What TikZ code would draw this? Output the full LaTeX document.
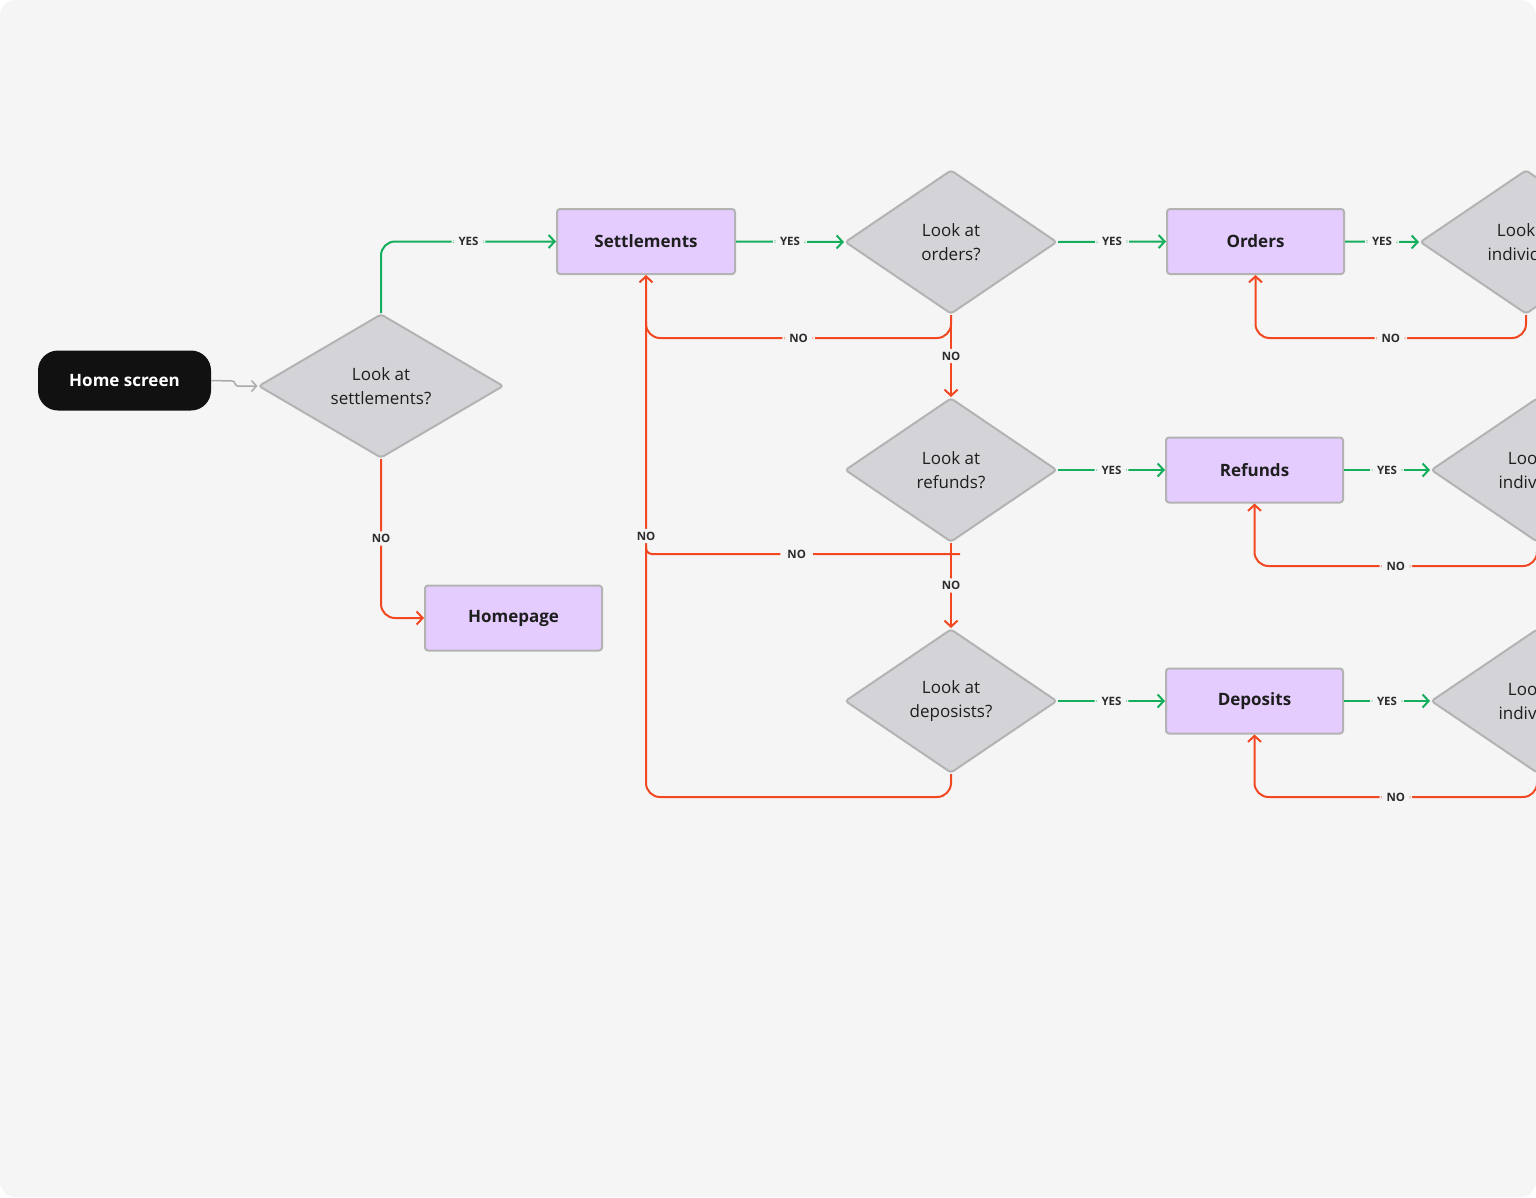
\documentclass[tikz,border=0pt]{standalone}
\usepackage{fontspec}
\setmainfont{Open Sans}
\usetikzlibrary{shapes.geometric,arrows.meta,calc}
\definecolor{bgc}{HTML}{F5F5F5}
\definecolor{gr}{HTML}{14AE5C}
\definecolor{rd}{HTML}{F24822}
\definecolor{boxfill}{HTML}{E4CCFF}
\definecolor{boxline}{HTML}{B3B3B3}
\definecolor{diafill}{HTML}{D4D4D8}
\definecolor{dialine}{HTML}{B3B3B3}
\definecolor{txt}{HTML}{1E1E1E}
\definecolor{lbltxt}{HTML}{2C2C2C}
\definecolor{homebg}{HTML}{111111}
\definecolor{greyline}{HTML}{AAAAAA}
\tikzset{
  boxnode/.style={draw=boxline, fill=boxfill, line width=2pt, rounded corners=3pt,
    minimum width=177pt, minimum height=65pt, inner sep=0pt, text=txt,
    font=\bfseries\fontsize{17}{20}\selectfont},
  dianode/.style={diamond, draw=dialine, fill=diafill, line width=2pt, rounded corners=3pt,
    aspect=1.4, inner sep=0pt, minimum width=212pt, minimum height=144pt, align=center,
    text=txt, font=\fontsize{17}{24}\selectfont},
  yesline/.style={draw=gr, line width=2pt, rounded corners=14pt, -{Straight Barb[length=6pt,width=13pt]}},
  noline/.style={draw=rd, line width=2pt, rounded corners=14pt, -{Straight Barb[length=6pt,width=13pt]}},
  noplain/.style={draw=rd, line width=2pt, rounded corners=14pt},
  lbl/.style={fill=bgc, text=lbltxt, inner xsep=7pt, inner ysep=3pt,
    font=\bfseries\fontsize{11.5}{12}\selectfont},
}
\begin{document}
\begin{tikzpicture}[x=1pt,y=-1pt]
\useasboundingbox (0,0) rectangle (1536,1197);
\fill[white] (0,0) rectangle (1536,1197);
\fill[bgc, rounded corners=16pt] (0,0) rectangle (1536,1197);
\begin{scope}
\clip (0,0) rectangle (1536,1197);

% nodes
\node[fill=homebg, rounded corners=20pt, minimum width=173pt, minimum height=60pt, inner sep=0pt,
  text=white, font=\bfseries\fontsize{17}{20}\selectfont] (home) at (124.5,380.5) {Home screen};
\node[dianode, minimum width=245pt] (d1) at (381,386) {Look at\\settlements?};
\node[boxnode, minimum width=178pt] (set) at (646,241.5) {Settlements};
\node[boxnode] (hp) at (513.5,618) {Homepage};
\node[dianode] (dord) at (951,242) {Look at\\orders?};
\node[dianode] (dref) at (951,470) {Look at\\refunds?};
\node[dianode] (ddep) at (951,701) {Look at\\deposists?};
\node[boxnode] (ord) at (1255.5,241.5) {Orders};
\node[boxnode] (ref) at (1254.5,470) {Refunds};
\node[boxnode] (dep) at (1254.5,701) {Deposits};
\node[dianode] (dr1) at (1526,242) {Look at\\individual};
\node[dianode] (dr2) at (1537,470) {Look at\\individual};
\node[dianode] (dr3) at (1537,701) {Look at\\individual};

% coordinates
\coordinate (hj) at ($(d1.west)+(-20,0)$);
\coordinate (c1) at (951,338);
\coordinate (c2) at (646,338);
\coordinate (c2e) at (646,322);
\coordinate (c3) at (646,797);
\coordinate (c4a) at (960,554);
\coordinate (c4b) at (646,554);
\coordinate (c4c) at (646,546);
\coordinate (r1) at (1255.5,338);
\coordinate (r2) at (1254.5,566);
\coordinate (r3) at (1254.5,797);

% home arrow
\draw[greyline, line width=1.5pt, -{Straight Barb[length=5pt,width=11pt]}]
  (home.east) -- ($(hj)+(-5,-5)$) to[out=0,in=180] (hj) -- (d1.west);

% YES connectors
\draw[yesline] (d1.north) |- node[lbl, pos=0.75]{YES} (set.west);
\draw[yesline] (set.east) -- node[lbl]{YES} (dord.west);
\draw[yesline] (dord.east) -- node[lbl]{YES} (ord.west);
\draw[yesline] (dref.east) -- node[lbl]{YES} (ref.west);
\draw[yesline] (ddep.east) -- node[lbl]{YES} (dep.west);
\draw[yesline] (ord.east) -- node[lbl]{YES} (dr1.west);
\draw[yesline] (ref.east) -- node[lbl]{YES} (dr2.west);
\draw[yesline] (dep.east) -- node[lbl]{YES} (dr3.west);

% NO connectors
\draw[noline] (d1.south) |- node[lbl, pos=0.25]{NO} (hp.west);
\draw[noplain] (dord.south) -- (c1) -- node[lbl]{NO} (c2) -- (c2e);
\draw[noline] (dord.south) -- node[lbl]{NO} (dref.north);
\draw[noline] (dref.south) -- node[lbl]{NO} (ddep.north);
\draw[noplain, rounded corners=6pt] (c4a) -- node[lbl, pos=0.52]{NO} (c4b) -- (c4c);
\draw[noline] (ddep.south) |- (c3) -- node[lbl]{NO} (set.south);
\draw[noline] (dr1.south) |- node[lbl, pos=0.75]{NO} (r1) -- (ord.south);
\draw[noline] (dr2.south) |- node[lbl, pos=0.75]{NO} (r2) -- (ref.south);
\draw[noline] (dr3.south) |- node[lbl, pos=0.75]{NO} (r3) -- (dep.south);
\end{scope}
\end{tikzpicture}
\end{document}
